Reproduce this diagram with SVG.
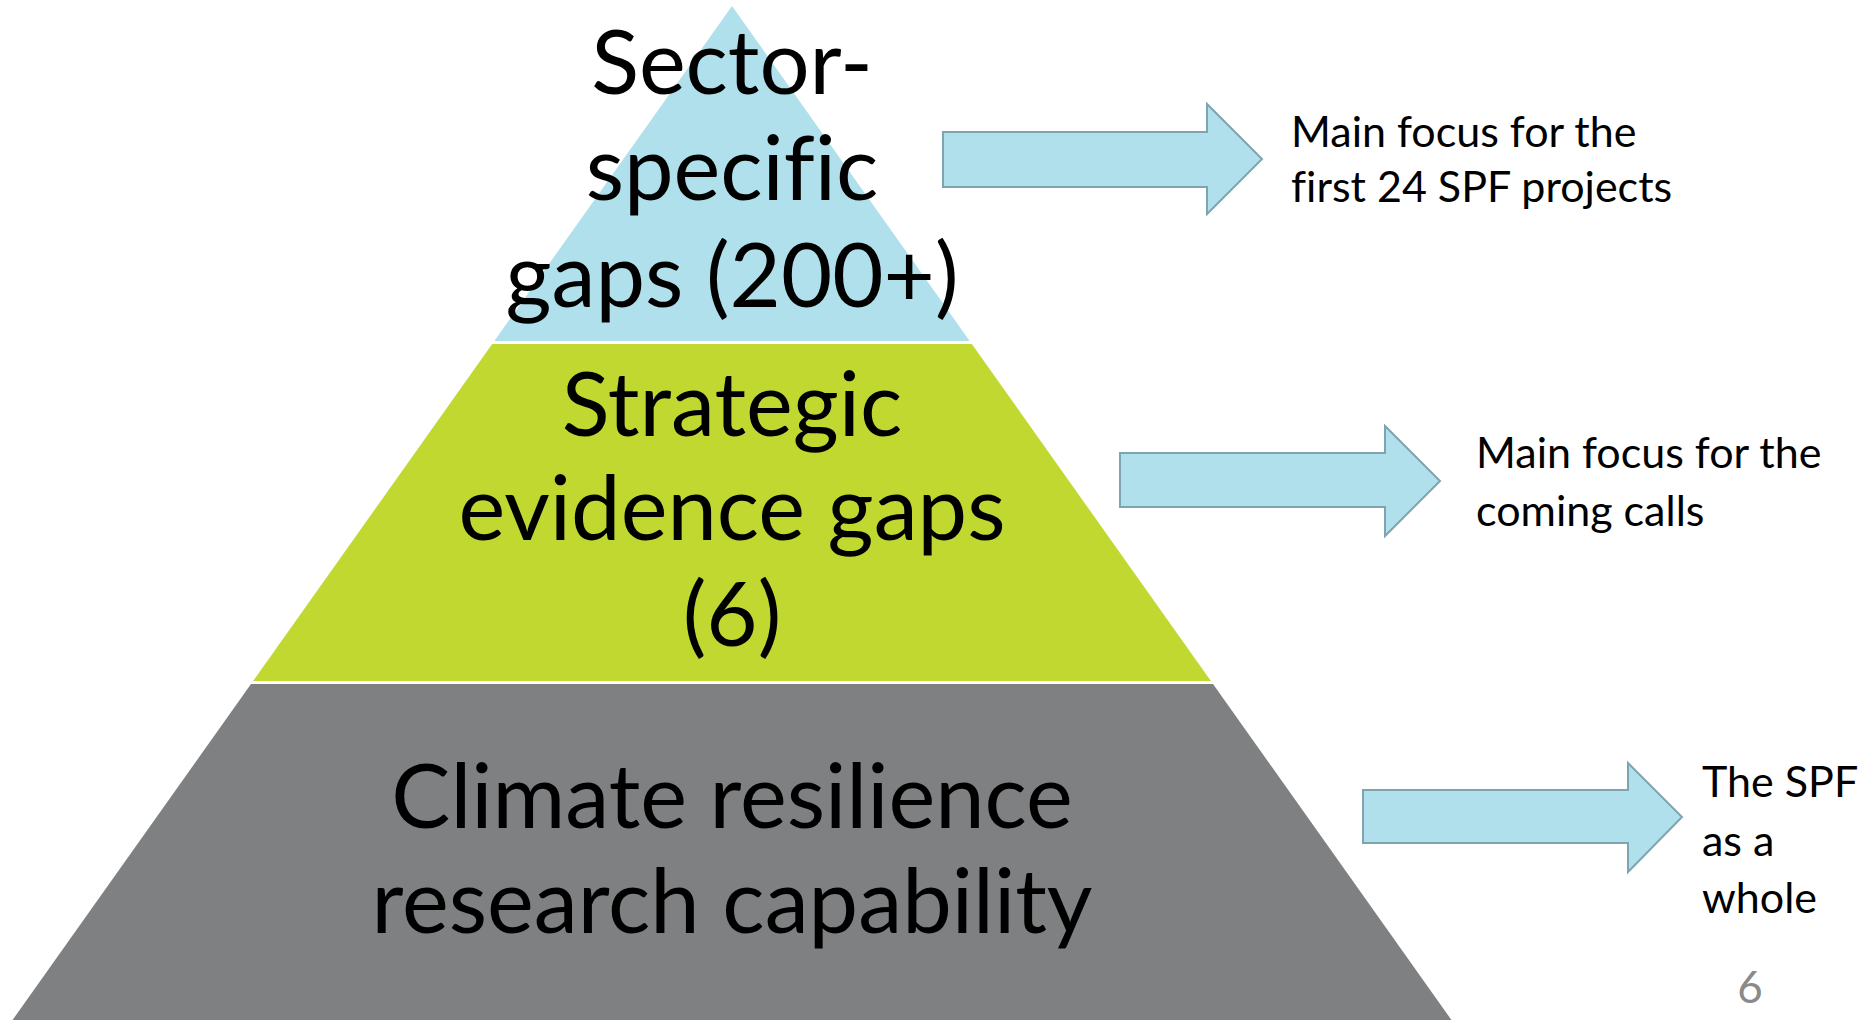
<svg xmlns="http://www.w3.org/2000/svg" width="1860" height="1020" viewBox="0 0 1860 1020">
  <style>
    text { font-variant-ligatures: none; font-feature-settings: "liga" 0; }
    .main { font-family: Lato, "Liberation Sans", sans-serif; font-size: 88.5px; fill: #000; text-anchor: middle; }
    .side { font-family: Lato, "Liberation Sans", sans-serif; font-size: 43px; fill: #000; }
    .arrow { fill: #b0e0ec; stroke: #7fa4b1; stroke-width: 2; }
    .pnum { font-family: Lato, "Liberation Sans", sans-serif; font-size: 44px; fill: #8a8a8a; text-anchor: middle; }
  </style>
  <rect width="1860" height="1020" fill="#ffffff"/>
  <g id="tier-top">
    <polygon points="732,6 969.7,341 494.3,341" fill="#b0e0ec"/>
    <text class="main" x="732" y="94">Sector-</text>
    <text class="main" x="732" y="200">specific</text>
    <text class="main" x="732" y="307">gaps (200+)</text>
  </g>
  <g id="tier-middle">
    <polygon points="492.2,344 971.8,344 1210.9,681 253.1,681" fill="#c0d830"/>
    <text class="main" x="732" y="436">Strategic</text>
    <text class="main" x="732" y="540">evidence gaps</text>
    <text class="main" x="732" y="646">(6)</text>
  </g>
  <g id="tier-bottom">
    <polygon points="251,684 1213,684 1455,1025 9,1025" fill="#7f8082"/>
    <text class="main" x="732" y="828">Climate resilience</text>
    <text class="main" x="732" y="933">research capability</text>
  </g>
  <g id="connectors">
    <polygon class="arrow" points="943,132 1207,132 1207,104 1262,159 1207,214 1207,187 943,187"/>
    <polygon class="arrow" points="1120,453 1385,453 1385,426 1440,481 1385,536 1385,507 1120,507"/>
    <polygon class="arrow" points="1363,790 1628,790 1628,763 1682,817 1628,872 1628,843 1363,843"/>
  </g>
  <g id="label-1">
    <text class="side" x="1291" y="147">Main focus for the</text>
    <text class="side" x="1291" y="202">first 24 SPF projects</text>
  </g>
  <g id="label-2">
    <text class="side" x="1476" y="468">Main focus for the</text>
    <text class="side" x="1476" y="526">coming calls</text>
  </g>
  <g id="label-3">
    <text class="side" x="1702" y="797">The SPF</text>
    <text class="side" x="1702" y="856">as a</text>
    <text class="side" x="1702" y="913">whole</text>
  </g>
  <g id="page-number">
    <text class="pnum" x="1750" y="1003">6</text>
  </g>
</svg>
